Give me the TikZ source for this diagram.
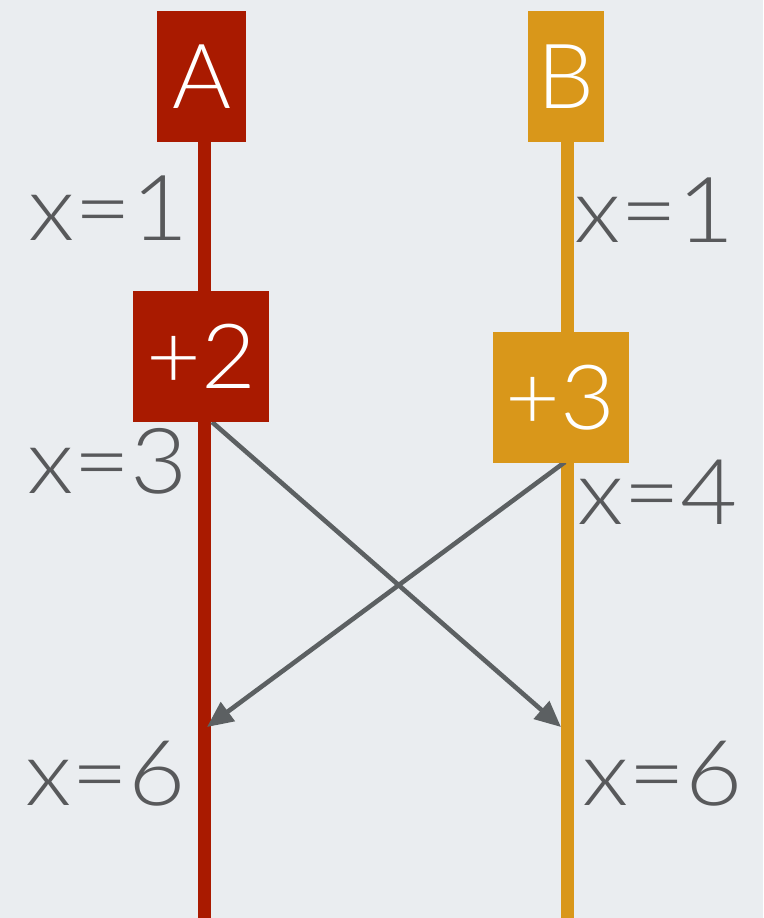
\documentclass[tikz,border=0pt]{standalone}
\usepackage{fontspec}
\setmainfont{Lato Light}
\usetikzlibrary{arrows.meta}
\definecolor{bg}{HTML}{EAEDF0}
\definecolor{ared}{HTML}{A91A00}
\definecolor{borange}{HTML}{D9971A}
\definecolor{txtgray}{HTML}{58595B}
\definecolor{arrgray}{HTML}{5C6062}
\newcommand{\wide}[1]{\scalebox{1.085}[1]{#1}}
\tikzset{
  box/.style={draw=none, inner sep=0pt, text=white, align=center,
    font=\fontsize{90}{100}\selectfont},
  lab/.style={inner sep=0pt, anchor=base west, text=txtgray,
    font=\fontsize{91}{100}\selectfont},
  track/.style={line width=13pt},
  cross/.style={draw=arrgray, line width=4.6pt,
    -{Triangle[length=26pt,width=23pt]}}
}
\begin{document}
\begin{tikzpicture}[x=1pt,y=-1pt]
\useasboundingbox (0,0) rectangle (763,918);
\fill[bg] (0,0) rectangle (763,918);
% tracks
\coordinate (aTop) at (204,140);
\coordinate (aBot) at (204,918);
\coordinate (bTop) at (567.7,140);
\coordinate (bBot) at (567.7,918);
\draw[track, ared] (aTop) -- (aBot);
\draw[track, borange] (bTop) -- (bBot);
% arrows
\coordinate (s1) at (212,422);
\coordinate (t1) at (561,727);
\coordinate (s2) at (565,462);
\coordinate (t2) at (207,727);
\draw[cross] (s1) -- (t1);
\draw[cross] (s2) -- (t2);
% boxes
\node[box, fill=ared, minimum width=89pt, minimum height=131pt] (boxA) at (201.5,76.5) {A};
\node[box, fill=borange, minimum width=76pt, minimum height=131pt] (boxB) at (565.5,76.5) {B};
\node[box, fill=ared, minimum width=136pt, minimum height=131pt] (p2) at (201.3,356.5) {\scalebox{1.05}[1]{+2}};
\node[box, fill=borange, minimum width=136pt, minimum height=131pt] (p3) at (560.7,397.3) {\scalebox{1.05}[1]{+3}};
% labels
\node[lab] (la1) at (28,240) {\wide{x=1}};
\node[lab] (lb1) at (574,242) {\wide{x=1}};
\node[lab] (la3) at (27,493) {\wide{x=3}};
\node[lab] (lb4) at (577,524) {\wide{x=4}};
\node[lab] (la6) at (25,805) {\wide{x=6}};
\node[lab] (lb6) at (582,805) {\wide{x=6}};
\end{tikzpicture}
\end{document}
